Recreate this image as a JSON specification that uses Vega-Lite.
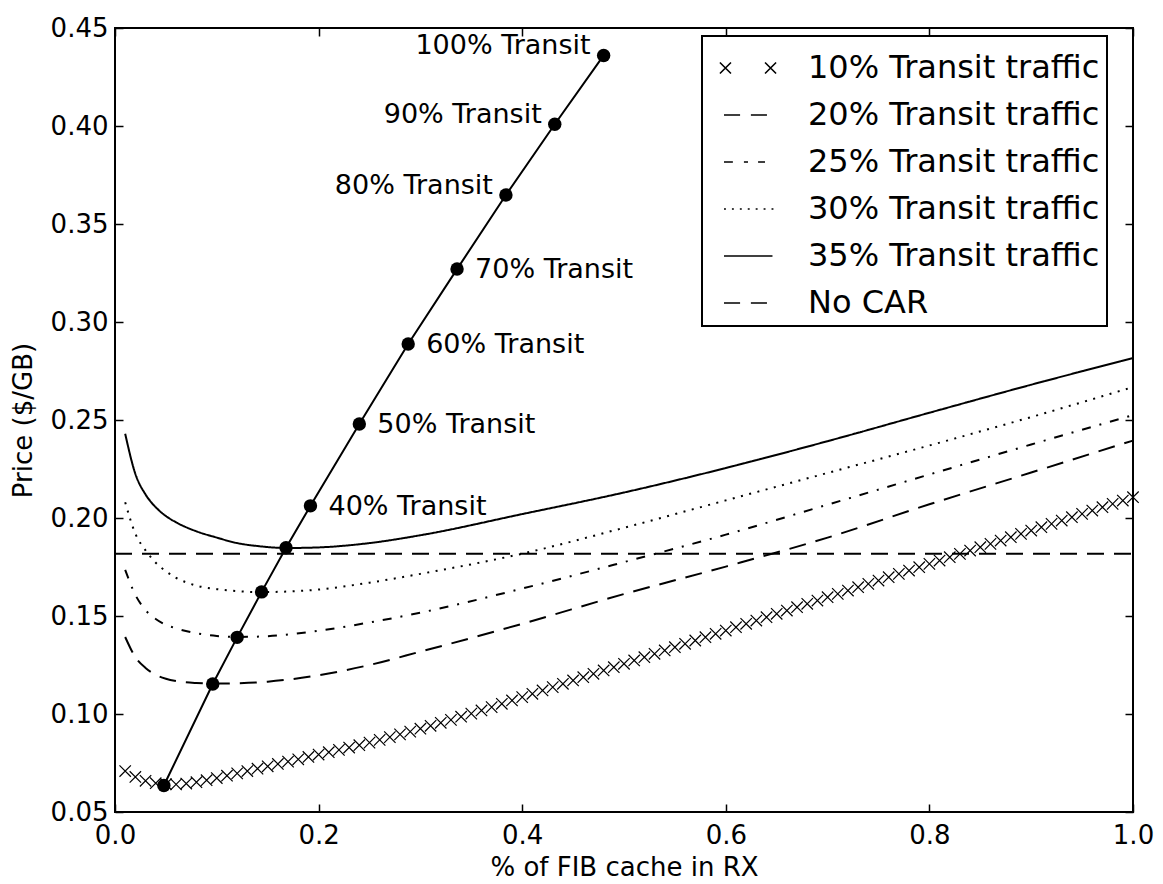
{
  "$schema": "https://vega.github.io/schema/vega-lite/v6.json",
  "width": 1018,
  "height": 784,
  "autosize": {"type": "none"},
  "padding": {"left": 115, "top": 28, "right": 30, "bottom": 72},
  "background": "white",
  "datasets": {
    "curves": [
      {"series": "20% Transit traffic", "x": 0.01, "y": 0.1393},
      {"series": "20% Transit traffic", "x": 0.02, "y": 0.1290},
      {"series": "20% Transit traffic", "x": 0.03, "y": 0.1235},
      {"series": "20% Transit traffic", "x": 0.04, "y": 0.1200},
      {"series": "20% Transit traffic", "x": 0.05, "y": 0.1180},
      {"series": "20% Transit traffic", "x": 0.06, "y": 0.1168},
      {"series": "20% Transit traffic", "x": 0.08, "y": 0.1158},
      {"series": "20% Transit traffic", "x": 0.10, "y": 0.1155},
      {"series": "20% Transit traffic", "x": 0.12, "y": 0.1157},
      {"series": "20% Transit traffic", "x": 0.15, "y": 0.1165},
      {"series": "20% Transit traffic", "x": 0.20, "y": 0.1198},
      {"series": "20% Transit traffic", "x": 0.25, "y": 0.1250},
      {"series": "20% Transit traffic", "x": 0.30, "y": 0.1318},
      {"series": "20% Transit traffic", "x": 0.40, "y": 0.1460},
      {"series": "20% Transit traffic", "x": 0.50, "y": 0.1612},
      {"series": "20% Transit traffic", "x": 0.60, "y": 0.1752},
      {"series": "20% Transit traffic", "x": 0.70, "y": 0.1900},
      {"series": "20% Transit traffic", "x": 0.80, "y": 0.2070},
      {"series": "20% Transit traffic", "x": 0.90, "y": 0.2232},
      {"series": "20% Transit traffic", "x": 1.00, "y": 0.2395},
      {"series": "25% Transit traffic", "x": 0.01, "y": 0.1735},
      {"series": "25% Transit traffic", "x": 0.02, "y": 0.1608},
      {"series": "25% Transit traffic", "x": 0.03, "y": 0.1530},
      {"series": "25% Transit traffic", "x": 0.04, "y": 0.1485},
      {"series": "25% Transit traffic", "x": 0.05, "y": 0.1455},
      {"series": "25% Transit traffic", "x": 0.06, "y": 0.1437},
      {"series": "25% Transit traffic", "x": 0.08, "y": 0.1412},
      {"series": "25% Transit traffic", "x": 0.10, "y": 0.1398},
      {"series": "25% Transit traffic", "x": 0.12, "y": 0.1393},
      {"series": "25% Transit traffic", "x": 0.15, "y": 0.1397},
      {"series": "25% Transit traffic", "x": 0.20, "y": 0.1425},
      {"series": "25% Transit traffic", "x": 0.25, "y": 0.1467},
      {"series": "25% Transit traffic", "x": 0.30, "y": 0.1517},
      {"series": "25% Transit traffic", "x": 0.40, "y": 0.1640},
      {"series": "25% Transit traffic", "x": 0.50, "y": 0.1775},
      {"series": "25% Transit traffic", "x": 0.60, "y": 0.1915},
      {"series": "25% Transit traffic", "x": 0.70, "y": 0.2068},
      {"series": "25% Transit traffic", "x": 0.80, "y": 0.2222},
      {"series": "25% Transit traffic", "x": 0.90, "y": 0.2375},
      {"series": "25% Transit traffic", "x": 1.00, "y": 0.2525},
      {"series": "30% Transit traffic", "x": 0.01, "y": 0.2080},
      {"series": "30% Transit traffic", "x": 0.02, "y": 0.1920},
      {"series": "30% Transit traffic", "x": 0.03, "y": 0.1835},
      {"series": "30% Transit traffic", "x": 0.04, "y": 0.1772},
      {"series": "30% Transit traffic", "x": 0.05, "y": 0.1728},
      {"series": "30% Transit traffic", "x": 0.06, "y": 0.1695},
      {"series": "30% Transit traffic", "x": 0.08, "y": 0.1655},
      {"series": "30% Transit traffic", "x": 0.10, "y": 0.1637},
      {"series": "30% Transit traffic", "x": 0.12, "y": 0.1627},
      {"series": "30% Transit traffic", "x": 0.14, "y": 0.1622},
      {"series": "30% Transit traffic", "x": 0.17, "y": 0.1625},
      {"series": "30% Transit traffic", "x": 0.20, "y": 0.1635},
      {"series": "30% Transit traffic", "x": 0.25, "y": 0.1670},
      {"series": "30% Transit traffic", "x": 0.30, "y": 0.1715},
      {"series": "30% Transit traffic", "x": 0.40, "y": 0.1818},
      {"series": "30% Transit traffic", "x": 0.50, "y": 0.1950},
      {"series": "30% Transit traffic", "x": 0.60, "y": 0.2090},
      {"series": "30% Transit traffic", "x": 0.70, "y": 0.2230},
      {"series": "30% Transit traffic", "x": 0.80, "y": 0.2370},
      {"series": "30% Transit traffic", "x": 0.90, "y": 0.2515},
      {"series": "30% Transit traffic", "x": 1.00, "y": 0.2668},
      {"series": "35% Transit traffic", "x": 0.01, "y": 0.2430},
      {"series": "35% Transit traffic", "x": 0.02, "y": 0.2225},
      {"series": "35% Transit traffic", "x": 0.03, "y": 0.2120},
      {"series": "35% Transit traffic", "x": 0.04, "y": 0.2055},
      {"series": "35% Transit traffic", "x": 0.05, "y": 0.2010},
      {"series": "35% Transit traffic", "x": 0.06, "y": 0.1978},
      {"series": "35% Transit traffic", "x": 0.08, "y": 0.1932},
      {"series": "35% Transit traffic", "x": 0.10, "y": 0.1900},
      {"series": "35% Transit traffic", "x": 0.12, "y": 0.1872},
      {"series": "35% Transit traffic", "x": 0.14, "y": 0.1857},
      {"series": "35% Transit traffic", "x": 0.17, "y": 0.1847},
      {"series": "35% Transit traffic", "x": 0.20, "y": 0.1850},
      {"series": "35% Transit traffic", "x": 0.25, "y": 0.1872},
      {"series": "35% Transit traffic", "x": 0.30, "y": 0.1912},
      {"series": "35% Transit traffic", "x": 0.40, "y": 0.2020},
      {"series": "35% Transit traffic", "x": 0.50, "y": 0.2130},
      {"series": "35% Transit traffic", "x": 0.60, "y": 0.2255},
      {"series": "35% Transit traffic", "x": 0.70, "y": 0.2392},
      {"series": "35% Transit traffic", "x": 0.80, "y": 0.2537},
      {"series": "35% Transit traffic", "x": 0.90, "y": 0.2680},
      {"series": "35% Transit traffic", "x": 1.00, "y": 0.2816},
      {"series": "No CAR", "x": 0.0, "y": 0.1818},
      {"series": "No CAR", "x": 1.0, "y": 0.1818}
    ],
    "cross10": [
      {"x": 0.01, "y": 0.0709}, {"x": 0.02, "y": 0.0679}, {"x": 0.03, "y": 0.0659}, {"x": 0.04, "y": 0.0647}, {"x": 0.05, "y": 0.0642},
      {"x": 0.06, "y": 0.0641}, {"x": 0.07, "y": 0.0645}, {"x": 0.08, "y": 0.0652}, {"x": 0.09, "y": 0.0662}, {"x": 0.10, "y": 0.0673},
      {"x": 0.11, "y": 0.0685}, {"x": 0.12, "y": 0.0697}, {"x": 0.13, "y": 0.0709}, {"x": 0.14, "y": 0.0721}, {"x": 0.15, "y": 0.0733},
      {"x": 0.16, "y": 0.0745}, {"x": 0.17, "y": 0.0757}, {"x": 0.18, "y": 0.0769}, {"x": 0.19, "y": 0.0781}, {"x": 0.20, "y": 0.0793},
      {"x": 0.21, "y": 0.0805}, {"x": 0.22, "y": 0.0817}, {"x": 0.23, "y": 0.0829}, {"x": 0.24, "y": 0.0841}, {"x": 0.25, "y": 0.0854},
      {"x": 0.26, "y": 0.0868}, {"x": 0.27, "y": 0.0882}, {"x": 0.28, "y": 0.0896}, {"x": 0.29, "y": 0.0910}, {"x": 0.30, "y": 0.0925},
      {"x": 0.31, "y": 0.0940}, {"x": 0.32, "y": 0.0955}, {"x": 0.33, "y": 0.0970}, {"x": 0.34, "y": 0.0986}, {"x": 0.35, "y": 0.1002},
      {"x": 0.36, "y": 0.1018}, {"x": 0.37, "y": 0.1035}, {"x": 0.38, "y": 0.1052}, {"x": 0.39, "y": 0.1069}, {"x": 0.40, "y": 0.1086},
      {"x": 0.41, "y": 0.1103}, {"x": 0.42, "y": 0.1120}, {"x": 0.43, "y": 0.1137}, {"x": 0.44, "y": 0.1154}, {"x": 0.45, "y": 0.1171},
      {"x": 0.46, "y": 0.1188}, {"x": 0.47, "y": 0.1205}, {"x": 0.48, "y": 0.1222}, {"x": 0.49, "y": 0.1239}, {"x": 0.50, "y": 0.1256},
      {"x": 0.51, "y": 0.1273}, {"x": 0.52, "y": 0.1290}, {"x": 0.53, "y": 0.1307}, {"x": 0.54, "y": 0.1324}, {"x": 0.55, "y": 0.1341},
      {"x": 0.56, "y": 0.1358}, {"x": 0.57, "y": 0.1375}, {"x": 0.58, "y": 0.1392}, {"x": 0.59, "y": 0.1409}, {"x": 0.60, "y": 0.1426},
      {"x": 0.61, "y": 0.1443}, {"x": 0.62, "y": 0.1460}, {"x": 0.63, "y": 0.1477}, {"x": 0.64, "y": 0.1494}, {"x": 0.65, "y": 0.1511},
      {"x": 0.66, "y": 0.1528}, {"x": 0.67, "y": 0.1545}, {"x": 0.68, "y": 0.1562}, {"x": 0.69, "y": 0.1579}, {"x": 0.70, "y": 0.1596},
      {"x": 0.71, "y": 0.1613}, {"x": 0.72, "y": 0.1630}, {"x": 0.73, "y": 0.1647}, {"x": 0.74, "y": 0.1664}, {"x": 0.75, "y": 0.1681},
      {"x": 0.76, "y": 0.1698}, {"x": 0.77, "y": 0.1715}, {"x": 0.78, "y": 0.1732}, {"x": 0.79, "y": 0.1749}, {"x": 0.80, "y": 0.1766},
      {"x": 0.81, "y": 0.1783}, {"x": 0.82, "y": 0.1800}, {"x": 0.83, "y": 0.1817}, {"x": 0.84, "y": 0.1834}, {"x": 0.85, "y": 0.1851},
      {"x": 0.86, "y": 0.1868}, {"x": 0.87, "y": 0.1885}, {"x": 0.88, "y": 0.1902}, {"x": 0.89, "y": 0.1919}, {"x": 0.90, "y": 0.1936},
      {"x": 0.91, "y": 0.1953}, {"x": 0.92, "y": 0.1970}, {"x": 0.93, "y": 0.1987}, {"x": 0.94, "y": 0.2004}, {"x": 0.95, "y": 0.2021},
      {"x": 0.96, "y": 0.2038}, {"x": 0.97, "y": 0.2055}, {"x": 0.98, "y": 0.2072}, {"x": 0.99, "y": 0.2089}, {"x": 1.00, "y": 0.2106}
    ],
    "transit": [
      {"pct": 10, "x": 0.048, "y": 0.0635, "label": ""},
      {"pct": 20, "x": 0.096, "y": 0.1153, "label": ""},
      {"pct": 25, "x": 0.120, "y": 0.1391, "label": ""},
      {"pct": 30, "x": 0.144, "y": 0.1623, "label": ""},
      {"pct": 35, "x": 0.168, "y": 0.1848, "label": ""},
      {"pct": 40, "x": 0.192, "y": 0.2062, "label": "40% Transit"},
      {"pct": 50, "x": 0.240, "y": 0.2480, "label": "50% Transit"},
      {"pct": 60, "x": 0.288, "y": 0.2888, "label": "60% Transit"},
      {"pct": 70, "x": 0.336, "y": 0.3270, "label": "70% Transit"},
      {"pct": 80, "x": 0.384, "y": 0.3648, "label": "80% Transit"},
      {"pct": 90, "x": 0.432, "y": 0.4009, "label": "90% Transit"},
      {"pct": 100, "x": 0.480, "y": 0.4360, "label": "100% Transit"}
    ]
  },
  "resolve": {"axis": {"x": "independent", "y": "independent"}},
  "layer": [
    {
      "data": {"name": "curves"},
      "mark": {"type": "line", "color": "black", "strokeWidth": 2, "interpolate": "monotone", "strokeCap": "butt"},
      "encoding": {
        "x": {"field": "x", "type": "quantitative", "scale": {"domain": [0, 1], "nice": false, "zero": false},
          "axis": {"orient": "bottom", "title": "% of FIB cache in RX", "values": [0, 0.2, 0.4, 0.6, 0.8, 1.0], "format": ".1f"}},
        "y": {"field": "y", "type": "quantitative", "scale": {"domain": [0.05, 0.45], "nice": false, "zero": false},
          "axis": {"orient": "left", "title": "Price ($/GB)", "values": [0.05, 0.1, 0.15, 0.2, 0.25, 0.3, 0.35, 0.4, 0.45], "format": ".2f"}},
        "strokeDash": {"field": "series", "type": "nominal", "legend": null,
          "scale": {"domain": ["20% Transit traffic", "25% Transit traffic", "30% Transit traffic", "35% Transit traffic", "No CAR"],
            "range": [[17, 10], [9, 9, 2, 9], [2, 6.5], [1, 0], [17, 10]]}}
      }
    },
    {
      "data": {"name": "cross10"},
      "mark": {"type": "point", "shape": "M-1,-1L1,1M-1,1L1,-1", "size": 130, "filled": false, "color": "black", "strokeWidth": 1.2, "opacity": 1},
      "encoding": {
        "x": {"field": "x", "type": "quantitative", "axis": null},
        "y": {"field": "y", "type": "quantitative", "axis": null}
      }
    },
    {
      "data": {"name": "transit"},
      "mark": {"type": "line", "color": "black", "strokeWidth": 2},
      "encoding": {
        "x": {"field": "x", "type": "quantitative", "axis": null},
        "y": {"field": "y", "type": "quantitative", "axis": null},
        "order": {"field": "pct", "type": "quantitative"}
      }
    },
    {
      "data": {"name": "transit"},
      "mark": {"type": "point", "filled": true, "color": "black", "size": 180, "opacity": 1},
      "encoding": {
        "x": {"field": "x", "type": "quantitative", "axis": null},
        "y": {"field": "y", "type": "quantitative", "axis": null}
      }
    },
    {
      "data": {"name": "transit"},
      "transform": [{"filter": "datum.pct >= 40 && datum.pct <= 70"}],
      "mark": {"type": "text", "align": "left", "baseline": "middle", "dx": 18, "dy": 1, "fontSize": 27, "color": "black"},
      "encoding": {
        "x": {"field": "x", "type": "quantitative", "axis": null},
        "y": {"field": "y", "type": "quantitative", "axis": null},
        "text": {"field": "label"}
      }
    },
    {
      "data": {"name": "transit"},
      "transform": [{"filter": "datum.pct >= 80"}],
      "mark": {"type": "text", "align": "right", "baseline": "middle", "dx": -13, "dy": -9, "fontSize": 27, "color": "black"},
      "encoding": {
        "x": {"field": "x", "type": "quantitative", "axis": null},
        "y": {"field": "y", "type": "quantitative", "axis": null},
        "text": {"field": "label"}
      }
    },
    {
      "data": {"name": "curves"},
      "mark": {"type": "point", "opacity": 0, "filled": false, "color": "black"},
      "encoding": {
        "x": {"field": "x", "type": "quantitative",
          "axis": {"orient": "top", "labels": false, "title": null, "values": [0, 0.2, 0.4, 0.6, 0.8, 1.0]}},
        "y": {"field": "y", "type": "quantitative",
          "axis": {"orient": "right", "labels": false, "title": null, "values": [0.05, 0.1, 0.15, 0.2, 0.25, 0.3, 0.35, 0.4, 0.45]}},
        "shape": {"field": "series", "type": "nominal",
          "scale": {"domain": ["10% Transit traffic", "20% Transit traffic", "25% Transit traffic", "30% Transit traffic", "35% Transit traffic", "No CAR"],
            "range": [
              "M-1.17,-0.23L-0.71,0.23M-1.17,0.23L-0.71,-0.23M0.71,-0.23L1.17,0.23M0.71,0.23L1.17,-0.23",
              "M-1,0L-0.33,0M0.12,0L0.79,0",
              "M-1,0L-0.63,0M-0.17,0L0,0M0.42,0L0.71,0",
              "M-1,0L-0.92,0M-0.67,0L-0.59,0M-0.34,0L-0.26,0M-0.01,0L0.07,0M0.32,0L0.4,0M0.65,0L0.73,0M0.98,0L1.06,0",
              "M-1,0L1.02,0",
              "M-1,0L-0.33,0M0.12,0L0.79,0"
            ]},
          "legend": {"title": null, "orient": "none", "legendX": 587, "legendY": 8}
        }
      }
    }
  ],
  "config": {
    "font": "DejaVu Sans",
    "view": {"stroke": "black", "strokeWidth": 2},
    "axis": {
      "domain": false, "grid": false, "ticks": true, "tickSize": -8, "tickWidth": 1.5, "tickColor": "black",
      "labelFontSize": 26, "labelColor": "black", "labelFont": "DejaVu Sans", "labelFlush": false, "labelOverlap": false,
      "titleFontSize": 26, "titleFont": "DejaVu Sans", "titleFontWeight": "normal", "titleColor": "black"
    },
    "axisBottom": {"labelPadding": 18, "titlePadding": 6},
    "axisLeft": {"labelPadding": 15, "titlePadding": 14},
    "legend": {
      "strokeColor": "black", "strokeWidth": 2, "fillColor": "white", "padding": 7, "cornerRadius": 0,
      "symbolSize": 2304, "symbolStrokeWidth": 1.6, "symbolStrokeColor": "black", "symbolFillColor": "transparent", "symbolOpacity": 1,
      "symbolOffset": 14, "labelOffset": 35, "labelFontSize": 32, "labelFont": "DejaVu Sans", "labelColor": "black",
      "labelLimit": 0, "rowPadding": 6
    }
  }
}
